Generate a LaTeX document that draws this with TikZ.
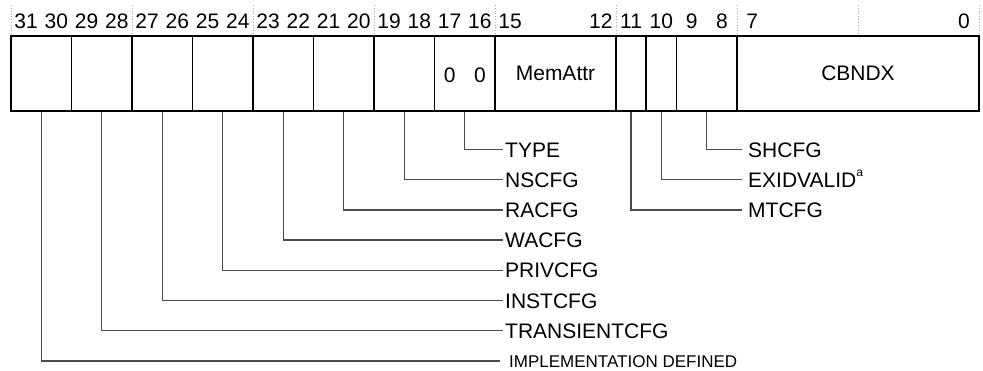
\documentclass[tikz,border=0pt]{standalone}
\usepackage{fontspec}
\setmainfont{Liberation Sans}
\definecolor{leadgray}{RGB}{75,75,75}
\definecolor{guidegray}{RGB}{170,170,170}
\begin{document}
\begin{tikzpicture}[x=1pt,y=-1pt,
  every node/.style={font=\fontsize{21}{25}\selectfont},
  cell/.style={draw=black, line width=1.8pt, minimum height=75pt, inner sep=0pt, minimum width=#1},
  bitnum/.style={inner sep=0pt, text height=15pt, text depth=0pt, anchor=center},
  lbl/.style={anchor=west, inner ysep=0pt, inner xsep=2pt, text height=15.3pt, text depth=0pt},
  rlbl/.style={anchor=west, inner ysep=0pt, inner xsep=6pt, text height=15.3pt, text depth=0pt},
  smalllbl/.style={anchor=west, inner ysep=0pt, inner xsep=9pt, text height=12.4pt, text depth=0pt, font=\fontsize{17}{20}\selectfont},
  leader/.style={draw=leadgray, line width=1.3pt},
  guide/.style={draw=guidegray, line width=0.8pt, dotted}]
\useasboundingbox (0,0) rectangle (983,370);

% dotted guides every 4 bits
\foreach \k in {0,...,8} {
  \coordinate (gt\k) at (11+\k*121,5);
  \coordinate (gb\k) at (11+\k*121,35);
  \draw[guide] (gt\k) -- (gb\k);
}

% bit numbers
\foreach \b in {31,30,...,16} {
  \node[bitnum] (n\b) at ({11+(31-\b)*30.25+15.125},21) {\b};
}
\foreach \b in {15,12,11,10,9,8,7,0} {
  \node[bitnum] (n\b) at ({11+(31-\b)*30.25+15.125},21) {\b};
}

% register cells
\node[cell=60.5pt] (c31) at (41.25,73.5) {};
\node[cell=60.5pt] (c29) at (101.75,73.5) {};
\node[cell=60.5pt] (c27) at (162.25,73.5) {};
\node[cell=60.5pt] (c25) at (222.75,73.5) {};
\node[cell=60.5pt] (c23) at (283.25,73.5) {};
\node[cell=60.5pt] (c21) at (343.75,73.5) {};
\node[cell=60.5pt] (c19) at (404.25,73.5) {};
\node[cell=60.5pt] (c17) at (464.75,73.5) {};
\node[cell=121pt] (c15) at (555.5,73.5) {MemAttr};
\node[cell=30.25pt] (c11) at (631.125,73.5) {};
\node[cell=30.25pt] (c10) at (661.375,73.5) {};
\node[cell=60.5pt] (c9) at (706.75,73.5) {};
\node[cell=242pt] (c7) at (858,73.5) {CBNDX};
\node[bitnum] (z17) at (449.6,74.5) {0};
\node[bitnum] (z16) at (479.9,74.5) {0};

% field labels
\node[lbl] (type) at (503,149.5) {TYPE};
\node[lbl] (nscfg) at (503,179.7) {NSCFG};
\node[lbl] (racfg) at (503,209.9) {RACFG};
\node[lbl] (wacfg) at (503,240.1) {WACFG};
\node[lbl] (privcfg) at (503,270.3) {PRIVCFG};
\node[lbl] (instcfg) at (503,300.5) {INSTCFG};
\node[lbl] (transcfg) at (503,330.7) {TRANSIENTCFG};
\node[smalllbl] (impl) at (500,360.9) {IMPLEMENTATION DEFINED};
\node[rlbl] (shcfg) at (742,149.5) {SHCFG};
\node[rlbl] (exid) at (742,179.7) {EXIDVALID\raisebox{11pt}{\fontsize{12}{12}\selectfont a}};
\node[rlbl] (mtcfg) at (742,209.9) {MTCFG};

% leaders
\draw[leader] (c17.south) |- (type.west);
\draw[leader] (c19.south) |- (nscfg.west);
\draw[leader] (c21.south) |- (racfg.west);
\draw[leader] (c23.south) |- (wacfg.west);
\draw[leader] (c25.south) |- (privcfg.west);
\draw[leader] (c27.south) |- (instcfg.west);
\draw[leader] (c29.south) |- (transcfg.west);
\draw[leader] (c31.south) |- (impl.west);
\draw[leader] (c9.south) |- (shcfg.west);
\draw[leader] (c10.south) |- (exid.west);
\draw[leader] (c11.south) |- (mtcfg.west);
\end{tikzpicture}
\end{document}
